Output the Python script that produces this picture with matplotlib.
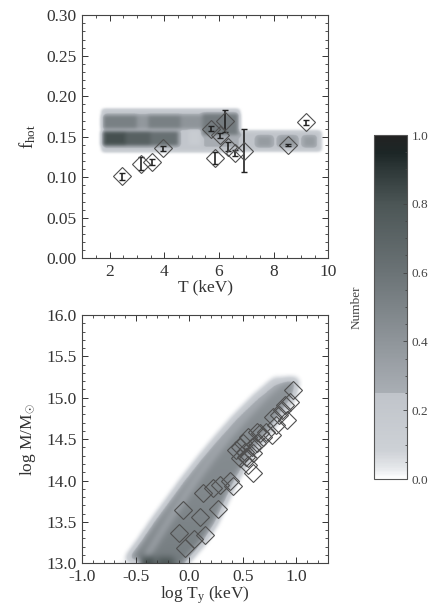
import numpy as np
import matplotlib
matplotlib.use('Agg')
import matplotlib.pyplot as plt
from matplotlib.colors import LinearSegmentedColormap
from matplotlib.ticker import MultipleLocator, FormatStrFormatter

plt.rcParams['font.family'] = ['Liberation Serif', 'DejaVu Serif']
plt.rcParams['mathtext.fontset'] = 'custom'
plt.rcParams['mathtext.rm'] = 'Liberation Serif'
plt.rcParams['mathtext.it'] = 'Liberation Serif'

# ---- top panel: f_hot vs T, clusters
hot_T = [2.44, 3.14, 3.55, 3.94, 5.70, 5.86, 6.23, 6.05, 6.33, 6.60, 6.90, 8.52, 9.17]
hot_f = [0.101, 0.117, 0.119, 0.136, 0.160, 0.124, 0.169, 0.152, 0.138, 0.130, 0.133, 0.140, 0.168]
hot_err_lo = [0.004, 0.008, 0.004, 0.003, 0.003, 0.007, 0.013, 0.003, 0.006, 0.004, 0.027, 0.001, 0.003]
hot_err_hi = [0.004, 0.008, 0.004, 0.003, 0.003, 0.007, 0.014, 0.003, 0.006, 0.004, 0.026, 0.001, 0.003]

# density blocks of the simulated sample (T0, T1, f0, f1, level)
blk_T0 = [1.75, 6.70, 1.75, 2.60, 3.50, 1.75, 3.00, 4.60, 5.40, 4.90, 5.40, 7.40, 8.20, 9.10]
blk_T1 = [6.70, 9.70, 2.60, 3.50, 4.50, 4.60, 3.40, 5.40, 6.70, 5.30, 6.70, 7.90, 8.80, 9.50]
blk_f0 = [0.132, 0.133, 0.139, 0.139, 0.139, 0.160, 0.160, 0.160, 0.152, 0.140, 0.136, 0.138, 0.138, 0.138]
blk_f1 = [0.183, 0.156, 0.156, 0.156, 0.156, 0.176, 0.176, 0.176, 0.178, 0.158, 0.151, 0.150, 0.150, 0.150]
blk_lev = [0.22, 0.24, 0.82, 0.72, 0.62, 0.52, 0.38, 0.40, 0.55, 0.14, 0.26, 0.36, 0.36, 0.36]

# ---- bottom panel: M vs T_y
mt_logT = [-0.10, -0.04, -0.06, 0.10, 0.04, 0.15, 0.13, 0.27, 0.22, 0.29, 0.38, 0.52, 0.60,
           0.55, 0.47, 0.50, 0.55, 0.59, 0.63, 0.66, 0.72, 0.77, 0.78, 0.84, 0.91, 0.89,
           0.94, 0.97, 0.44, 0.53, 0.60, 0.41, 0.47, 0.69, 0.81, 0.87, 0.63, 0.55]
mt_logM = [13.37, 13.18, 13.64, 13.56, 13.29, 13.34, 13.85, 13.66, 13.91, 13.95, 13.99, 14.35, 14.09,
           14.19, 14.27, 14.45, 14.53, 14.41, 14.45, 14.57, 14.59, 14.55, 14.77, 14.79, 14.73, 14.91,
           14.95, 15.09, 14.37, 14.29, 14.33, 13.93, 14.41, 14.53, 14.67, 14.85, 14.59, 14.27]

# simulated band, per row of log M: left edge, light stripe, right edge
band_M = [12.80, 13.00, 13.25, 13.50, 13.75, 14.00, 14.25, 14.50, 14.75, 15.00, 15.20]
band_left = [-0.72, -0.60, -0.46, -0.33, -0.19, -0.05, 0.10, 0.26, 0.43, 0.62, 0.80]
band_stripe = [-0.55, -0.44, -0.32, -0.20, -0.07, 0.06, 0.20, 0.35, 0.52, 0.70, 0.87]
band_right = [-0.15, -0.05, 0.12, 0.24, 0.33, 0.42, 0.54, 0.68, 0.82, 0.96, 1.00]
band_level = [0.58, 0.55, 0.52, 0.50, 0.48, 0.47, 0.46, 0.45, 0.44, 0.42, 0.40]

# extra patches at the bottom edge (logT0, logT1, logM0, logM1, level)
pat_x0 = [-0.45, -0.30, -0.62]
pat_x1 = [-0.33, -0.15, -0.47]
pat_y0 = [12.90, 12.90, 12.90]
pat_y1 = [13.07, 13.06, 13.035]
pat_lev = [0.85, 0.80, 0.0]

cb_ticks = [0.0, 0.2, 0.4, 0.6, 0.8, 1.0]

cmap = LinearSegmentedColormap.from_list('num', [
    (0.00, '#ffffff'), (0.03, '#e6e8eb'), (0.08, '#cdd1d6'), (0.249, '#c0c4ca'),
    (0.25, '#a9aeb4'), (0.40, '#8f959a'), (0.60, '#6b7376'), (0.80, '#4c5656'),
    (0.90, '#2e3838'), (0.95, '#1c2626'), (1.00, '#222222')])


def blur(img, sy, sx):
    out = img.copy()
    for axis, s in ((0, sy), (1, sx)):
        r = int(3 * s) + 1
        k = np.exp(-0.5 * (np.arange(-r, r + 1) / s) ** 2)
        k /= k.sum()
        out = np.apply_along_axis(lambda v: np.convolve(v, k, mode='same'), axis, out)
    return out


def style(ax):
    ax.tick_params(which='both', direction='in', top=True, right=True, labelsize=12.5, colors='#333333')
    ax.tick_params(which='major', length=4, width=0.7, pad=4)
    ax.tick_params(which='minor', length=2, width=0.6)
    for s in ax.spines.values():
        s.set_color('#444444')
        s.set_linewidth(0.8)


fig = plt.figure(figsize=(4.35, 6.12), dpi=100)

# top panel
ax1 = fig.add_axes([0.189, 0.578, 0.566, 0.397])
tg = np.linspace(1, 10, 451)
fg = np.linspace(0.10, 0.20, 401)
TT, FF = np.meshgrid(tg, fg)
img = np.zeros_like(TT)
for t0, t1, f0, f1, lv in zip(blk_T0, blk_T1, blk_f0, blk_f1, blk_lev):
    img[(TT >= t0) & (TT <= t1) & (FF >= f0) & (FF <= f1)] = lv
img = blur(img, 8.0, 3.5)
ax1.imshow(img, extent=[1, 10, 0.10, 0.20], origin='lower', aspect='auto', cmap=cmap,
           vmin=0, vmax=1, interpolation='bilinear', zorder=0)
ax1.errorbar(hot_T, hot_f, yerr=[hot_err_lo, hot_err_hi], fmt='none', ecolor='#222222',
             elinewidth=1.2, capsize=2, capthick=1.0, zorder=2)
ax1.plot(hot_T, hot_f, 'D', ms=9.5, mfc='none', mec='#505050', mew=0.8, zorder=3)
ax1.set_xlim(1, 10)
ax1.set_ylim(0, 0.30)
ax1.xaxis.set_major_locator(MultipleLocator(2))
ax1.xaxis.set_minor_locator(MultipleLocator(0.5))
ax1.yaxis.set_major_locator(MultipleLocator(0.05))
ax1.yaxis.set_minor_locator(MultipleLocator(0.01))
ax1.yaxis.set_major_formatter(FormatStrFormatter('%.2f'))
ax1.set_xlabel('T (keV)', fontsize=12.5, labelpad=0, color='#333333')
ax1.set_ylabel(r'f$_{\rm hot}$', fontsize=13.5, labelpad=6, color='#333333')
style(ax1)

# bottom panel
ax2 = fig.add_axes([0.189, 0.0796, 0.566, 0.4057])
xg = np.linspace(-1.0, 1.3, 461)
mg = np.linspace(12.8, 16.0, 641)
XX, MM = np.meshgrid(xg, mg)
img2 = np.zeros_like(XX)
top_M = band_M[-1]
for i, m in enumerate(mg):
    if m > top_M:
        continue
    lft = np.interp(m, band_M, band_left)
    stp = np.interp(m, band_M, band_stripe)
    rgt = np.interp(m, band_M, band_right)
    lv = np.interp(m, band_M, band_level)
    row = img2[i]
    row[(xg >= lft) & (xg <= rgt)] = lv
    row[(xg >= lft) & (xg < lft + 0.06)] = lv * 0.85
    row[np.abs(xg - stp) < 0.03] = lv * 0.55
for x0, x1, y0, y1, lv in zip(pat_x0, pat_x1, pat_y0, pat_y1, pat_lev):
    img2[(XX >= x0) & (XX <= x1) & (MM >= y0) & (MM <= y1)] = lv
img2 = blur(img2, 8.0, 6.0)
ax2.imshow(img2, extent=[-1.0, 1.3, 12.8, 16.0], origin='lower', aspect='auto', cmap=cmap,
           vmin=0, vmax=1, interpolation='bilinear', zorder=0)
ax2.plot(mt_logT, mt_logM, 'D', ms=9.5, mfc='none', mec='#505050', mew=0.8, zorder=3)
ax2.set_xlim(-1.0, 1.3)
ax2.set_ylim(13.0, 16.0)
ax2.xaxis.set_major_locator(MultipleLocator(0.5))
ax2.xaxis.set_minor_locator(MultipleLocator(0.1))
ax2.yaxis.set_major_locator(MultipleLocator(0.5))
ax2.yaxis.set_minor_locator(MultipleLocator(0.1))
ax2.xaxis.set_major_formatter(FormatStrFormatter('%.1f'))
ax2.yaxis.set_major_formatter(FormatStrFormatter('%.1f'))
ax2.set_xlabel(r'log T$_{\rm y}$ (keV)', fontsize=12.5, labelpad=0, color='#333333')
ax2.set_ylabel(r'log M/M$_{\odot}$', fontsize=12.5, labelpad=6, color='#333333')
style(ax2)

# colorbar
cax = fig.add_axes([0.860, 0.2173, 0.076, 0.562])
sm = plt.cm.ScalarMappable(cmap=cmap, norm=plt.Normalize(0, 1))
cb = fig.colorbar(sm, cax=cax, ticks=cb_ticks)
cb.ax.yaxis.set_major_formatter(FormatStrFormatter('%.1f'))
cb.ax.yaxis.set_minor_locator(MultipleLocator(0.05))
cb.ax.tick_params(which='both', direction='in', labelsize=9.5, colors='#444444', width=0.6, pad=3)
cb.ax.tick_params(which='major', length=3)
cb.ax.tick_params(which='minor', length=1.5)
cb.outline.set_edgecolor('#555555')
cb.outline.set_linewidth(0.8)
cax.yaxis.set_label_position('left')
cb.set_label('Number', fontsize=9.5, color='#444444', labelpad=8)

fig.savefig('out.png', dpi=100)
